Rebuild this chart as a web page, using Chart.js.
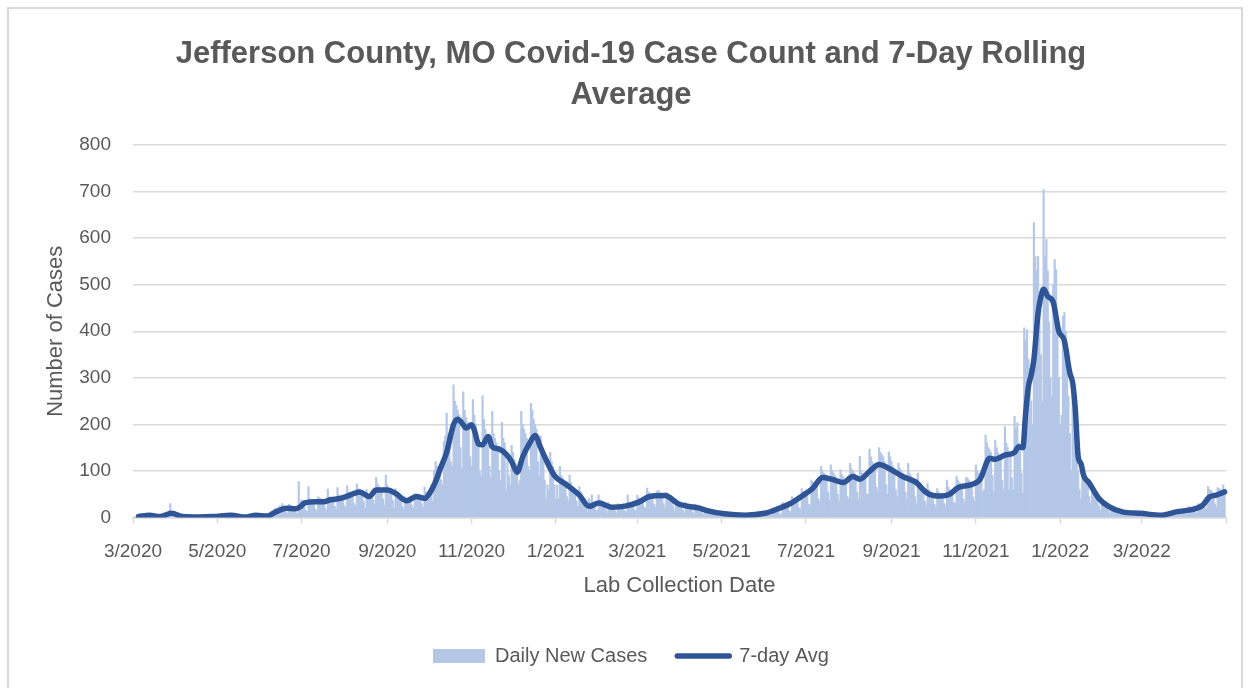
<!DOCTYPE html>
<html>
<head>
<meta charset="utf-8">
<title>Jefferson County, MO Covid-19 Case Count and 7-Day Rolling Average</title>
<script src="https://cdn.jsdelivr.net/npm/chart.js@4.4.1/dist/chart.umd.min.js"></script>
<style>
  html, body { margin: 0; padding: 0; background: #fff; }
  #wrap { width: 1250px; height: 688px; }
</style>
</head>
<body>
<div id="wrap"><canvas id="casesChart" width="1250" height="688"></canvas></div>
<script>
const FONT = "'Liberation Sans', Arial, sans-serif";
const TEXT = '#595959';

// axis runs 3/1/2020 .. 5/1/2022, one category per day
const firstDay = '2020-03-01';
const lastDay = '2022-05-01';

// daily new cases by lab collection date (3/1/2020 .. 12/31/2020)
const cases2020 = [
  0,0,2,3,5,2,1, 3,6,4,8,6,5,2, 1,3,2,2,4,1,0, 1,3,5,8,10,14,30,
  4,6,3,2,3,2,1, 0,2,3,2,2,1,1, 0,1,2,1,2,1,0, 0,2,2,1,3,2,0,
  1,2,3,2,2,3,1, 1,5,6,7,6,8,3, 2,6,4,3,3,2,1, 0,1,2,1,1,2,0,
  1,4,6,8,5,7,3, 1,4,3,3,4,3,2, 2,9,13,14,17,20,10, 8,25,22,30,24,22,12,
  8,28,26,22,20,22,10, 9,77,32,38,34,30,15, 12,66,40,38,36,32,18, 14,44,42,40,38,36,20,
  15,61,44,42,40,38,24, 18,64,48,45,44,42,26, 20,68,55,52,50,48,30, 24,72,62,60,58,55,34,
  20,60,48,44,42,46,38, 28,86,72,66,62,58,40, 26,91,70,64,58,52,36, 20,62,48,44,40,36,24,
  18,45,42,40,38,36,26, 20,51,50,48,46,44,30, 22,65,54,50,48,60,70, 35,101,120,110,105,110,80,
  70,163,175,224,180,170,120, 110,285,250,240,230,220,150, 105,270,230,215,205,200,130,
  110,253,220,200,180,160,100, 90,261,210,190,170,160,110, 85,228,180,170,160,150,100,
  80,204,170,160,60,120,90, 70,155,140,125,115,105,70, 80,228,200,190,180,170,110,
  100,245,230,210,200,190,120, 90,175,150,130,80,40,70, 60,140,120,110,70
];

// 1/1/2021 .. 12/31/2021
const cases2021 = [
  40,70, 40,110,90,85,80,70,45, 35,91,75,65,60,55,35, 25,66,55,48,40,35,22,
  12,40,30,48,26,25,16, 14,48,38,34,32,30,18, 10,32,28,25,22,20,14, 10,30,28,25,22,22,14,
  12,48,32,30,28,26,16, 15,48,42,40,36,34,22, 20,63,55,52,48,45,28, 22,56,58,55,52,50,30,
  20,54,50,46,42,38,24, 14,40,34,30,28,26,16, 10,32,28,26,24,22,12, 8,28,24,22,20,18,10,
  6,22,18,16,14,12,8, 4,14,12,10,10,8,5, 3,11,9,8,7,7,4, 2,8,7,6,6,5,3,
  2,7,6,6,5,5,2, 2,8,7,7,6,6,3, 3,12,11,10,9,9,5, 5,20,18,17,16,15,8,
  8,32,30,28,27,26,14, 12,45,40,38,36,35,20, 18,62,55,52,50,48,28, 25,80,75,70,68,65,40,
  35,109,100,95,92,90,55, 38,113,100,95,90,85,50, 35,102,92,88,80,75,45, 40,116,105,100,95,90,55,
  40,131,100,95,88,85,50, 50,147,130,120,115,110,65, 55,150,140,135,130,120,70, 50,141,130,120,110,100,60,
  45,116,105,100,95,90,55, 40,116,95,90,85,80,45, 30,95,75,70,65,60,35, 25,73,60,55,50,45,28,
  22,62,55,50,48,45,30, 25,80,65,60,56,52,32, 30,89,80,75,72,70,40, 32,86,84,80,76,74,44,
  35,113,100,95,90,88,55, 60,177,160,150,145,140,90, 55,166,150,140,130,125,80, 60,195,160,150,60,140,85,
  60,217,190,203,160,150,95, 52,407,380,403,340,320,250, 200,633,560,530,561,440,350,
  250,704,560,597,530,420,300, 260,500,554,532,430,300
];

// 1/1/2022 .. 4/30/2022
const cases2022 = [
  200, 220,432,440,400,330,260,180, 100,289,200,150,120,100,60, 40,102,90,85,80,75,45,
  30,55,50,45,42,40,25, 15,32,28,26,24,22,15, 8,20,18,16,15,14,9, 6,15,13,12,11,10,6,
  5,13,12,11,10,9,5, 4,12,11,10,9,8,5, 3,9,8,7,7,6,3, 2,8,7,6,5,5,2,
  4,12,10,9,9,8,5, 6,18,16,14,13,12,7, 8,24,22,20,19,18,10, 10,30,28,28,30,32,20,
  20,66,60,58,55,50,30, 22,64,62,60,58,70,48
];

// 7-day rolling average at these dates
const avgDates = [
  '2020-03-05','2020-03-13','2020-03-20','2020-03-29','2020-04-06','2020-04-18','2020-04-28',
  '2020-05-11','2020-05-21','2020-05-29','2020-06-06','2020-06-13','2020-06-20','2020-06-27',
  '2020-06-30','2020-07-03','2020-07-10','2020-07-17','2020-07-22','2020-07-29','2020-08-05',
  '2020-08-12','2020-08-19','2020-08-24','2020-09-01','2020-09-07','2020-09-15','2020-09-22',
  '2020-09-28','2020-10-03','2020-10-07','2020-10-09','2020-10-14','2020-10-19','2020-10-22',
  '2020-10-26','2020-10-28','2020-11-01','2020-11-03','2020-11-06','2020-11-09','2020-11-13',
  '2020-11-16','2020-11-21','2020-11-26','2020-11-30','2020-12-04','2020-12-08','2020-12-13',
  '2020-12-17','2020-12-21','2020-12-24','2020-12-31','2021-01-08','2021-01-18','2021-01-25',
  '2021-02-01','2021-02-11','2021-02-21','2021-03-02','2021-03-10','2021-03-21','2021-03-31',
  '2021-04-15','2021-04-19','2021-05-03','2021-05-18','2021-06-01','2021-06-11','2021-06-19',
  '2021-06-29','2021-07-06','2021-07-13','2021-07-20','2021-07-28','2021-08-04','2021-08-09',
  '2021-08-16','2021-08-23','2021-08-31','2021-09-09','2021-09-18','2021-09-27','2021-10-06',
  '2021-10-13','2021-10-19','2021-10-28','2021-11-04','2021-11-11','2021-11-15','2021-11-22',
  '2021-11-29','2021-12-02','2021-12-05','2021-12-07','2021-12-09','2021-12-11','2021-12-13',
  '2021-12-16','2021-12-19','2021-12-20','2021-12-23','2021-12-27','2021-12-31','2022-01-04',
  '2022-01-08','2022-01-10','2022-01-12','2022-01-14','2022-01-16','2022-01-18','2022-01-22',
  '2022-01-29','2022-02-05','2022-02-15','2022-02-28','2022-03-15','2022-03-26','2022-04-09',
  '2022-04-14','2022-04-19','2022-04-24','2022-04-30'
];
const avgValues = [
  2, 5, 2, 9, 2, 1, 2,
  5, 1, 5, 3, 13, 20, 19,
  23, 31, 34, 34, 38, 41, 48,
  55, 45, 59, 59, 52, 36, 45,
  41, 59, 85, 102, 140, 200, 211,
  199, 192, 199, 188, 158, 156, 174,
  152, 147, 136, 120, 97, 130, 159,
  176, 150, 130, 90, 72, 48, 24,
  31, 22, 25, 33, 45, 47, 29,
  20, 16, 8, 5, 9, 19, 29,
  48, 63, 86, 82, 75, 88, 82,
  99, 114, 104, 88, 77, 52, 46,
  50, 64, 70, 82, 127, 125, 134,
  140, 152, 150, 224, 281, 306, 340,
  439, 485, 490, 475, 462, 400, 380,
  310, 290, 230, 131, 116, 90, 74,
  41, 24, 12, 9, 5, 12, 19,
  26, 44, 48, 55
];

const yTicks = [0, 100, 200, 300, 400, 500, 600, 700, 800];

const dayLabels = [];
for (let t = Date.parse(firstDay); t <= Date.parse(lastDay); t += 86400000) {
  dayLabels.push(new Date(t).toISOString().slice(0, 10));
}

const dailyCases = [...cases2020, ...cases2021, ...cases2022];

const avgSeries = dayLabels.map(() => null);
avgDates.forEach((d, i) => { avgSeries[dayLabels.indexOf(d)] = avgValues[i]; });

// a tick on the 1st of every other month (3/2020, 5/2020, ...)
const isTickDay = iso => iso.endsWith('-01') && Number(iso.slice(5, 7)) % 2 === 1;
const tickText = iso => {
  if (iso === lastDay) return '';
  return `${Number(iso.slice(5, 7))}/${iso.slice(0, 4)}`;
};

const chartFrame = {
  id: 'chartFrame',
  beforeDraw(chart) {
    const { ctx, width, height } = chart;
    ctx.save();
    ctx.fillStyle = '#ffffff';
    ctx.fillRect(0, 0, width, height);
    ctx.strokeStyle = '#d9d9d9';
    ctx.lineWidth = 2;
    ctx.strokeRect(8, 8, width - 16, height);
    ctx.restore();
  }
};

new Chart(document.getElementById('casesChart'), {
  type: 'bar',
  data: {
    labels: dayLabels,
    datasets: [
      {
        type: 'bar',
        label: 'Daily New Cases',
        data: dailyCases,
        backgroundColor: '#b4c7e7',
        borderWidth: 0,
        barPercentage: 1,
        categoryPercentage: 1,
        inflateAmount: 0.4,
        order: 1
      },
      {
        type: 'line',
        label: '7-day Avg',
        data: avgSeries,
        borderColor: '#2f5597',
        backgroundColor: '#2f5597',
        borderWidth: 5.5,
        borderCapStyle: 'round',
        borderJoinStyle: 'round',
        pointRadius: 0,
        spanGaps: true,
        cubicInterpolationMode: 'monotone',
        order: 0
      }
    ]
  },
  options: {
    responsive: false,
    animation: false,
    devicePixelRatio: 1,
    layout: { padding: { top: 0, left: 36, right: 24, bottom: 12 } },
    plugins: {
      title: {
        display: true,
        text: ['Jefferson County, MO Covid-19 Case Count and 7-Day Rolling', 'Average'],
        color: TEXT,
        font: { family: FONT, size: 31, weight: 'bold', lineHeight: 41 / 31 },
        padding: { top: 34, bottom: 29 }
      },
      legend: {
        position: 'bottom',
        labels: {
          color: TEXT,
          font: { family: FONT, size: 20 },
          padding: 30,
          usePointStyle: true,
          pointStyleWidth: 52,
          boxHeight: 14,
          sort: (a, b) => a.datasetIndex - b.datasetIndex,
          generateLabels: chart => Chart.defaults.plugins.legend.labels.generateLabels(chart).map(item => ({
            ...item,
            pointStyle: item.datasetIndex === 0 ? 'rect' : 'line',
            lineCap: 'round'
          }))
        }
      },
      tooltip: { enabled: false }
    },
    scales: {
      x: {
        offset: false,
        afterBuildTicks: s => { s.ticks = s.ticks.filter(t => isTickDay(dayLabels[t.value])); },
        afterFit: s => { s.height = 98.5; },
        border: { color: '#d9d9d9', width: 1.5 },
        grid: { offset: false, drawOnChartArea: false, tickLength: 6, tickColor: '#d9d9d9', tickWidth: 1.5 },
        ticks: {
          autoSkip: false,
          maxRotation: 0,
          padding: 17,
          color: TEXT,
          font: { family: FONT, size: 19 },
          callback: v => tickText(dayLabels[v])
        },
        title: {
          display: true,
          text: 'Lab Collection Date',
          color: TEXT,
          font: { family: FONT, size: 22 },
          padding: { top: 0, bottom: 17 }
        }
      },
      y: {
        min: 0,
        max: 800,
        afterBuildTicks: s => { s.ticks = yTicks.map(v => ({ value: v })); },
        afterFit: s => { s.width = 97; },
        border: { display: false },
        grid: { color: '#d9d9d9', lineWidth: 1.5, drawTicks: false },
        ticks: { padding: 22, color: TEXT, font: { family: FONT, size: 19 } },
        title: {
          display: true,
          text: 'Number of Cases',
          color: TEXT,
          font: { family: FONT, size: 22 },
          padding: { top: 7, bottom: 0 }
        }
      }
    }
  },
  plugins: [chartFrame]
});
</script>
</body>
</html>
